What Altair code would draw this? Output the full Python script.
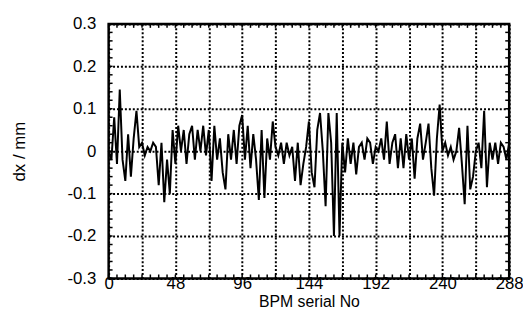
import altair as alt
import pandas as pd

bpm = list(range(0, 289, 2))
dx = [
    0.00, -0.02, 0.08, -0.03, 0.145, -0.02, -0.07, 0.04, -0.06, 0.03,
    0.095, 0.01, 0.02, -0.01, 0.01, 0.00, 0.02, 0.01, -0.08, 0.02,
    -0.12, -0.02, -0.10, 0.05, -0.03, 0.06, 0.00, 0.05, -0.03, 0.04,
    0.06, -0.02, 0.05, 0.00, 0.06, -0.01, 0.05, -0.07, 0.06, -0.02,
    0.03, -0.05, -0.09, 0.04, -0.02, 0.05, -0.03, 0.06, 0.085, -0.02,
    0.06, -0.04, 0.04, -0.02, -0.115, 0.05, -0.11, 0.03, -0.02, 0.07,
    0.01, -0.01, 0.02, -0.03, 0.02, -0.01, 0.01, -0.07, 0.02, -0.08,
    -0.03, 0.01, 0.07, -0.05, -0.085, 0.05, 0.09, 0.00, -0.13, 0.09,
    0.02, -0.20, 0.09, -0.20, 0.02, -0.05, 0.03, -0.03, 0.02, -0.055,
    0.01, 0.02, -0.02, 0.03, 0.02, -0.03, 0.01, 0.00, 0.03, -0.02,
    0.07, -0.03, 0.02, 0.04, -0.04, 0.03, -0.04, 0.04, -0.02, 0.03,
    -0.065, 0.03, 0.065, -0.02, 0.02, 0.065, -0.04, -0.105, 0.03, 0.11,
    0.00, 0.02, -0.01, 0.01, -0.02, 0.00, 0.055, -0.03, -0.125, 0.06,
    -0.09, -0.06, 0.00, 0.02, -0.04, 0.095, -0.085, 0.02, -0.02, 0.02,
    -0.03, 0.02, 0.01, -0.02, 0.02,
]

x_ticks = [0, 24, 48, 72, 96, 120, 144, 168, 192, 216, 240, 264, 288]
y_ticks = [-0.3, -0.2, -0.1, 0.0, 0.1, 0.2, 0.3]
x_minor = [0, 6, 12, 18, 24, 30, 36, 42, 48, 54, 60, 66, 72, 78, 84, 90, 96,
           102, 108, 114, 120, 126, 132, 138, 144, 150, 156, 162, 168, 174,
           180, 186, 192, 198, 204, 210, 216, 222, 228, 234, 240, 246, 252,
           258, 264, 270, 276, 282, 288]
y_minor = [-0.3, -0.28, -0.26, -0.24, -0.22, -0.2, -0.18, -0.16, -0.14, -0.12,
           -0.1, -0.08, -0.06, -0.04, -0.02, 0.0, 0.02, 0.04, 0.06, 0.08, 0.1,
           0.12, 0.14, 0.16, 0.18, 0.2, 0.22, 0.24, 0.26, 0.28, 0.3]

df = pd.DataFrame({"bpm": bpm, "dx": dx})
xm = pd.DataFrame({"bpm": x_minor})
ym = pd.DataFrame({"dx": y_minor})

W, H = 406, 258
FONT = "Liberation Sans"
FS = 17
xscale = alt.Scale(domain=[0, 288], nice=False, zero=False)
yscale = alt.Scale(domain=[-0.3, 0.3], nice=False, zero=False)

grid_style = dict(grid=True, gridColor="black", gridDash=[2, 2], gridWidth=2,
                  gridOpacity=1, ticks=False, domain=False)

x_enc = alt.X("bpm:Q", scale=xscale, title="BPM serial No",
              axis=alt.Axis(values=x_ticks,
                            labelExpr="datum.value % 48 == 0 ? datum.label : ''",
                            labelBaseline="alphabetic",
                            labelPadding=10, labelFontSize=FS, labelFont=FONT,
                            labelColor="black", titleFont=FONT, titleFontSize=16,
                            titleFontWeight="normal", titleColor="black",
                            titleY=28, titleBaseline="alphabetic",
                            labelFlush=False, labelOverlap=False, **grid_style))
y_enc = alt.Y("dx:Q", scale=yscale, title="dx / mm",
              axis=alt.Axis(values=y_ticks,
                            labelExpr="(datum.value < -0.001 ? '-' : '') + (abs(datum.value) < 0.001 ? '0' : format(abs(datum.value), '.1f'))",
                            labelPadding=13, labelFontSize=FS, labelFont=FONT,
                            labelColor="black", titleFont=FONT, titleFontSize=FS,
                            titleFontWeight="normal", titleColor="black",
                            titleX=-85, titleY=H / 2, titleAngle=270,
                            titleBaseline="alphabetic", titleAlign="center",
                            labelFlush=False, labelOverlap=False, **grid_style))

line = alt.Chart(df).mark_line(color="black", strokeWidth=2).encode(x=x_enc, y=y_enc)

tick_kw = dict(color="black", strokeWidth=1.5)
bottom = alt.Chart(xm).mark_rule(**tick_kw).encode(x=x_enc, y=alt.value(H), y2=alt.value(H - 4))
top = alt.Chart(xm).mark_rule(**tick_kw).encode(x=x_enc, y=alt.value(0), y2=alt.value(4))
left = alt.Chart(ym).mark_rule(**tick_kw).encode(y=y_enc, x=alt.value(0), x2=alt.value(4))
right = alt.Chart(ym).mark_rule(**tick_kw).encode(y=y_enc, x=alt.value(W), x2=alt.value(W - 4))

chart = alt.layer(line, bottom, top, left, right).properties(
    width=W, height=H,
    background="white",
    autosize=alt.AutoSizeParams(type="none"),
    padding={"left": 102, "top": 14, "right": 14, "bottom": 40},
).configure_view(stroke="black", strokeWidth=2.5)

chart.save("out.html", embed_options={"renderer": "svg", "actions": False})
